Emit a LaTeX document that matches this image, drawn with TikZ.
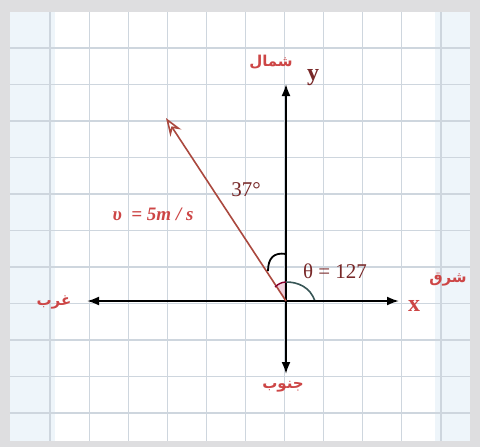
\documentclass[tikz,border=0pt]{standalone}
\usepackage{fontspec}
\usetikzlibrary{arrows.meta}
\newfontfamily\arabicfont[Script=Arabic]{DejaVu Sans}
\newfontfamily\lbfont{Liberation Serif}
\TeXXeTstate=1
\definecolor{gridc}{RGB}{206,214,222}
\definecolor{panel}{RGB}{238,245,250}
\definecolor{frame}{RGB}{222,222,224}
\definecolor{lbl}{RGB}{205,70,70}
\definecolor{vec}{RGB}{170,72,62}
\definecolor{dred}{RGB}{120,40,40}
\definecolor{arcc}{RGB}{55,85,85}
\tikzset{
  axis/.style={line width=2pt,black,-{Latex[length=12pt,width=9pt]}},
  vecline/.style={line width=1.6pt,vec,-{Stealth[length=18pt,width=13pt,open]}},
  arlbl/.style={text=lbl,font=\arabicfont\bfseries\fontsize{15}{17}\selectfont,inner sep=1pt},
  axlbl/.style={font=\lbfont\bfseries\fontsize{24}{26}\selectfont,inner sep=1pt},
  mlbl/.style={text=dred,font=\lbfont\fontsize{21}{23}\selectfont,inner sep=1pt},
  vlbl/.style={text=lbl,font=\lbfont\bfseries\itshape\fontsize{19}{21}\selectfont,inner sep=1pt},
  tlbl/.style={text=dred,font=\lbfont\fontsize{21}{23}\selectfont,inner sep=1pt}
}
\begin{document}
\begin{tikzpicture}[x=1pt,y=-1pt]
\useasboundingbox (0,0) rectangle (480,447);
\fill[frame] (0,0) rectangle (480,447);
\fill[panel] (10,12) rectangle (470,441);
\fill[white] (55,12) rectangle (435,441);
% grid
\foreach \i in {0,...,10} {
  \draw[gridc,line width=1.1pt] ({50+39.1*\i},12) -- ({50+39.1*\i},441);
}
\foreach \j in {0,...,10} {
  \draw[gridc,line width=1.1pt] (10,{48+36.5*\j}) -- (470,{48+36.5*\j});
}
\coordinate (O) at (286,301);
\coordinate (N) at (286,84);
\coordinate (S) at (286,374);
\coordinate (E) at (399,301);
\coordinate (W) at (87,301);
\coordinate (V) at (166,118);
% shaded wedge
\fill[purple!35,opacity=0.5] (O) -- (276,286) .. controls (279,283) and (282,282) .. (286,282) -- cycle;
% axes
\draw[axis] (O) -- (N);
\draw[axis] (O) -- (S);
\draw[axis] (O) -- (E);
\draw[axis] (O) -- (W);
% vector
\draw[vecline] (O) -- (V);
% angle arcs
\draw[black,line width=1.8pt] (286,254) .. controls (274,252) and (268,258) .. (268,271);
\draw[arcc,line width=1.6pt] (315,301) .. controls (310,287) and (298,282) .. (286,282);
\draw[purple!70!black,line width=1.4pt] (286,282) .. controls (282,282) and (278,284) .. (275,287);
\draw[black,line width=1.6pt] (310,301) -- (330,301);
% labels
\node[arlbl] (north) at (271,62) {\beginR شمال\endR};
\node[axlbl,text=dred] (ylab) at (313,78) {y};
\node[axlbl,text=lbl] (xlab) at (414,306) {x};
\node[arlbl] (east) at (448,280) {\beginR شرق\endR};
\node[arlbl] (west) at (54,302) {\beginR غرب\endR};
\node[arlbl] (south) at (283,387) {\beginR جنوب\endR};
\node[mlbl] (ang37) at (246,190) {37°};
\node[vlbl] (vel) at (153,214) {υ \ = 5m / s};
\node[tlbl] (theta) at (335,271) {θ = 127};
\end{tikzpicture}
\end{document}
